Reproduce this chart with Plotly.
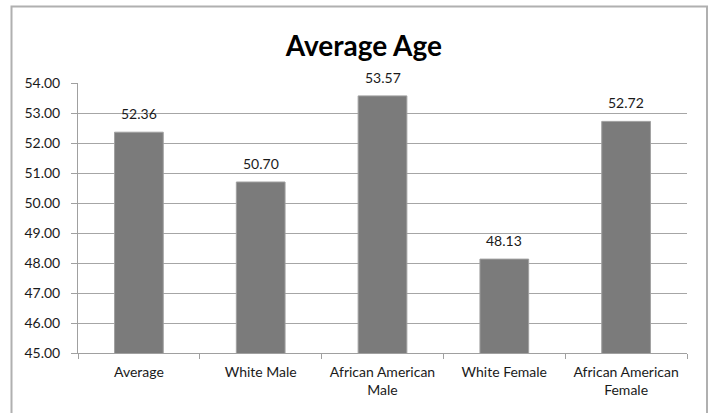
import plotly.graph_objects as go

categories = ["Average", "White Male", "African American<br>Male", "White Female", "African American<br>Female"]
values = [52.36, 50.70, 53.57, 48.13, 52.72]
labels = ["52.36", "50.70", "53.57", "48.13", "52.72"]
y_ticks = [45, 46, 47, 48, 49, 50, 51, 52, 53, 54]
y_tick_text = ["45.00", "46.00", "47.00", "48.00", "49.00", "50.00", "51.00", "52.00", "53.00", "54.00"]

FONT = "Lato, 'Open Sans', sans-serif"

fig = go.Figure()
fig.add_trace(go.Bar(
    x=categories, y=values,
    marker=dict(color="#7b7b7b", line=dict(color="#a0a0a0", width=1)),
    width=0.4,
    hoverinfo="skip",
))

for c, v, t in zip(categories, values, labels):
    fig.add_annotation(x=c, y=v, text=t, showarrow=False, yanchor="bottom",
                       yshift=8, font=dict(family=FONT, size=14, color="#1a1a1a"))

fig.update_layout(
    width=712, height=413,
    margin=dict(l=78, r=25, t=83, b=60),
    paper_bgcolor="white", plot_bgcolor="white",
    showlegend=False,
    title=dict(text="<b>Average Age</b>", x=0.511, xanchor="center", y=0.889, yanchor="middle",
               font=dict(family=FONT, size=28, color="#000000")),
    font=dict(family=FONT, size=14, color="#1a1a1a"),
    xaxis=dict(type="category", showgrid=False, showline=True, linecolor="#a0a0a0", linewidth=1,
               ticks="outside", tickson="boundaries", ticklen=5, tickcolor="#a0a0a0",
               ticklabelstandoff=6,
               tickfont=dict(family=FONT, size=14, color="#1a1a1a")),
    yaxis=dict(range=[45, 54], tickvals=y_ticks, ticktext=y_tick_text,
               showgrid=True, gridcolor="#a6a6a6", gridwidth=1,
               showline=True, linecolor="#a0a0a0", linewidth=1,
               ticks="outside", ticklen=6, tickcolor="#a0a0a0",
               ticklabelstandoff=8,
               tickfont=dict(family=FONT, size=14, color="#1a1a1a"), zeroline=False),
)

fig.add_shape(type="rect", xref="paper", yref="paper",
              x0=(11.5 - 78) / 609, x1=(707 - 78) / 609,
              y0=-0.4, y1=(353 - 6.5) / 270,
              line=dict(color="#b0b0b0", width=2), fillcolor="rgba(0,0,0,0)", layer="below")

fig.write_html("out.html")
